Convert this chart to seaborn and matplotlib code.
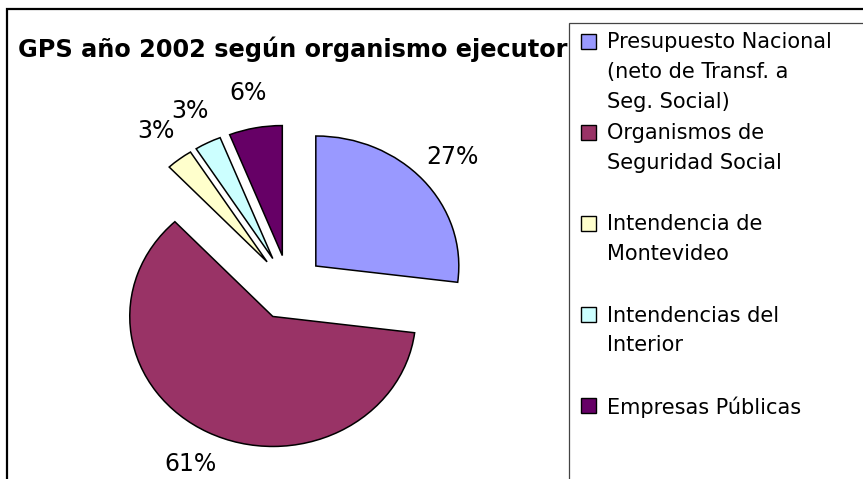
import matplotlib
matplotlib.use("Agg")
import numpy as np
import pandas as pd
import seaborn as sns
import matplotlib.pyplot as plt
from matplotlib.patches import Rectangle

# ---- data ----
categories = [
    "Presupuesto Nacional\n(neto de Transf. a\nSeg. Social)",
    "Organismos de\nSeguridad Social",
    "Intendencia de\nMontevideo",
    "Intendencias del\nInterior",
    "Empresas Públicas",
]
shares = [27, 61, 3, 3, 6]
colors = ["#9999FF", "#993366", "#FFFFCC", "#CCFFFF", "#660066"]
title = "GPS año 2002 según organismo ejecutor"

df = pd.DataFrame({"categoria": categories, "porcentaje": shares})

sns.set_theme(style="white")
plt.rcParams["font.family"] = ["DejaVu Sans"]
palette = sns.color_palette(colors)

W, H = 863, 479
fig = plt.figure(figsize=(W / 100, H / 100), dpi=100)
fig.patch.set_facecolor("white")

# outer chart frame
fig.add_artist(Rectangle((7 / W, -0.1), 1.2, 1 - 9 / H + 0.1, transform=fig.transFigure,
                         fill=False, edgecolor="black", lw=1.6, zorder=0))

ax = fig.add_axes([0, 0, 1, 1])
ax.patch.set_alpha(0)
wedges, texts, autotexts = ax.pie(
    df["porcentaje"], colors=palette, startangle=90, counterclock=False,
    explode=[0.25] * len(shares), autopct="%1.0f%%", pctdistance=1.27,
    wedgeprops=dict(edgecolor="black", linewidth=1.1),
    textprops=dict(fontsize=17, color="black"),
)
ax.set_aspect("auto")
cx_px, cy_px, rx, ry = 289, 287.5, 143, 130
ax.set_xlim(-cx_px / rx, (W - cx_px) / rx)
ax.set_ylim(-(H - cy_px) / ry, cy_px / ry)
ax.axis("off")

# title
fig.text(18 / W, 1 - 57 / H, title, fontsize=17.3, fontweight="bold",
         ha="left", va="baseline", color="black")

# legend box
fig.add_artist(Rectangle((569 / W, -0.1), 1, 1 - 23 / H + 0.1, transform=fig.transFigure,
                         facecolor="white", edgecolor="#444444", lw=0.9, zorder=1))
for i, (lab, col) in enumerate(zip(df["categoria"], palette)):
    yc = 41 + i * 91
    fig.add_artist(Rectangle((581 / W, 1 - (yc + 8) / H), 15 / W, 15 / H,
                             transform=fig.transFigure, facecolor=col,
                             edgecolor="black", lw=1.0, zorder=2))
    fig.text(607 / W, 1 - (yc - 8.5) / H, lab, fontsize=15, ha="left",
             va="top", linespacing=1.6, color="black", zorder=3)

fig.savefig("out.png", dpi=100, facecolor="white")
